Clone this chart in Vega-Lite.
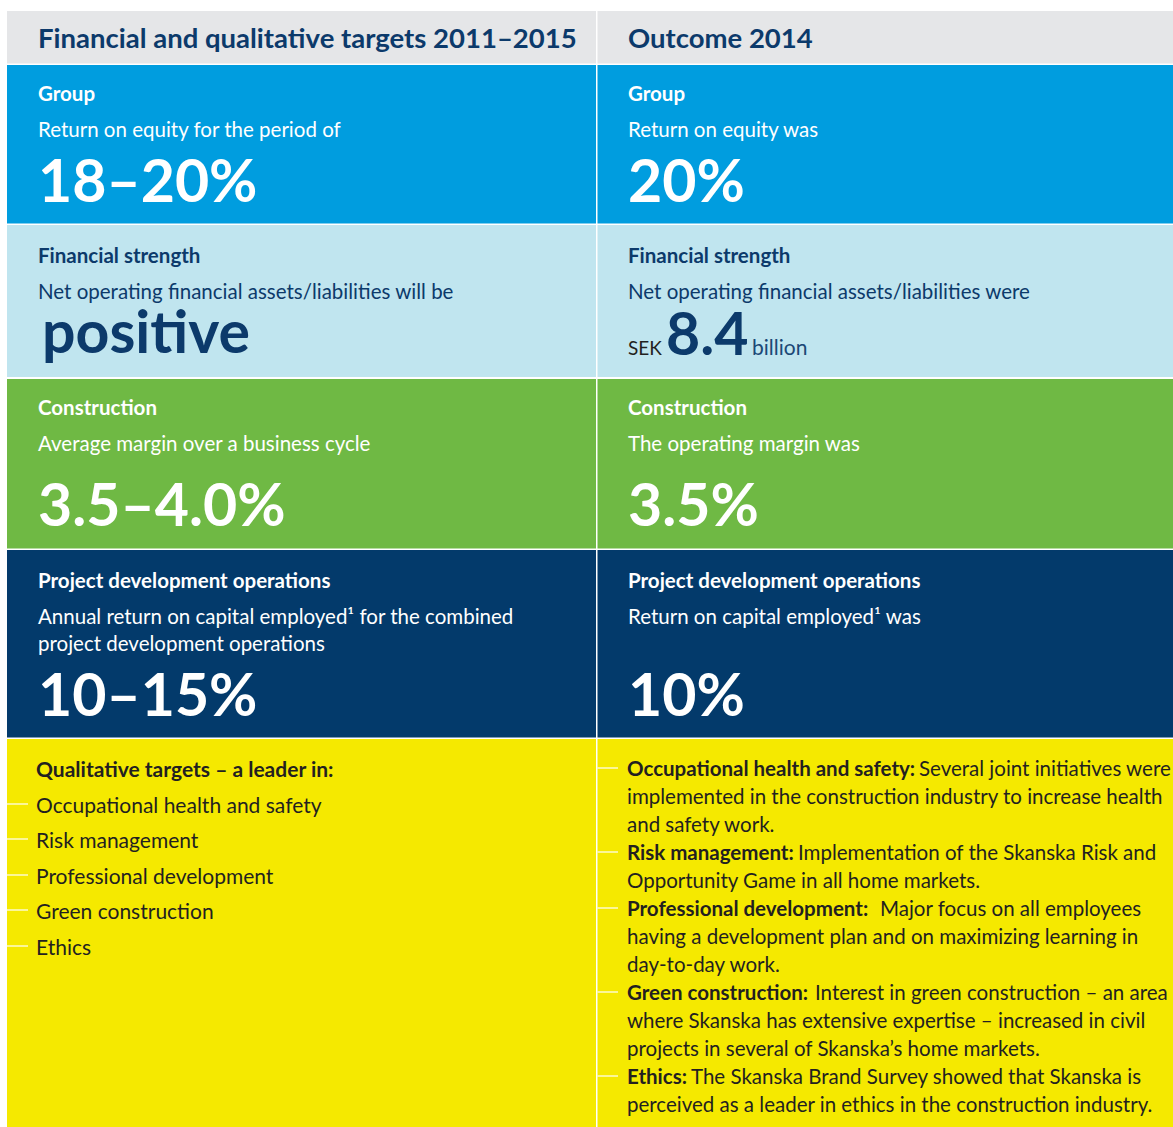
{
  "$schema": "https://vega.github.io/schema/vega-lite/v6.json",
  "width": 1173,
  "height": 1127,
  "autosize": {"type": "fit", "contains": "padding"},
  "padding": 0,
  "background": "#ffffff",
  "config": {"view": {"stroke": null}, "font": "Lato"},
  "datasets": {
    "cells": [
      {"section": "header", "col": "targets", "x0": 7, "x1": 596, "y0": 11, "y1": 63.5},
      {"section": "header", "col": "outcome", "x0": 597.5, "x1": 1173, "y0": 11, "y1": 63.5},
      {"section": "group", "col": "targets", "x0": 7, "x1": 596, "y0": 65, "y1": 223.5},
      {"section": "group", "col": "outcome", "x0": 597.5, "x1": 1173, "y0": 65, "y1": 223.5},
      {"section": "fin", "col": "targets", "x0": 7, "x1": 596, "y0": 225, "y1": 377},
      {"section": "fin", "col": "outcome", "x0": 597.5, "x1": 1173, "y0": 225, "y1": 377},
      {"section": "constr", "col": "targets", "x0": 7, "x1": 596, "y0": 379, "y1": 548.5},
      {"section": "constr", "col": "outcome", "x0": 597.5, "x1": 1173, "y0": 379, "y1": 548.5},
      {"section": "proj", "col": "targets", "x0": 7, "x1": 596, "y0": 550, "y1": 737.5},
      {"section": "proj", "col": "outcome", "x0": 597.5, "x1": 1173, "y0": 550, "y1": 737.5},
      {"section": "qual", "col": "targets", "x0": 7, "x1": 596, "y0": 739, "y1": 1127},
      {"section": "qual", "col": "outcome", "x0": 597.5, "x1": 1173, "y0": 739, "y1": 1127}
    ],
    "texts": [
      {"role": "header", "section": "header", "x": 38, "y": 48, "text": "Financial and qualitative targets 2011–2015"},
      {"role": "header", "section": "header", "x": 628, "y": 48, "text": "Outcome 2014"},
      {"role": "title", "section": "group", "x": 38, "y": 101, "text": "Group"},
      {"role": "title", "section": "group", "x": 628, "y": 101, "text": "Group"},
      {"role": "desc", "section": "group", "x": 38, "y": 137, "text": "Return on equity for the period of"},
      {"role": "desc", "section": "group", "x": 628, "y": 137, "text": "Return on equity was"},
      {"role": "big", "section": "group", "x": 38, "y": 202, "text": "18–20%"},
      {"role": "big", "section": "group", "x": 628, "y": 202, "text": "20%"},
      {"role": "title", "section": "fin", "x": 38, "y": 263, "text": "Financial strength"},
      {"role": "title", "section": "fin", "x": 628, "y": 263, "text": "Financial strength"},
      {"role": "desc", "section": "fin", "x": 38, "y": 299, "text": "Net operating financial assets/liabilities will be"},
      {"role": "desc", "section": "fin", "x": 628, "y": 299, "text": "Net operating financial assets/liabilities were"},
      {"role": "big", "section": "fin", "x": 42, "y": 353, "text": "positive"},
      {"role": "big", "section": "fin", "x": 666, "y": 355, "text": "8.4"},
      {"role": "sek", "section": "fin", "x": 628, "y": 355, "text": "SEK"},
      {"role": "unit", "section": "fin", "x": 752, "y": 355, "text": "billion"},
      {"role": "title", "section": "constr", "x": 38, "y": 415, "text": "Construction"},
      {"role": "title", "section": "constr", "x": 628, "y": 415, "text": "Construction"},
      {"role": "desc", "section": "constr", "x": 38, "y": 451, "text": "Average margin over a business cycle"},
      {"role": "desc", "section": "constr", "x": 628, "y": 451, "text": "The operating margin was"},
      {"role": "big", "section": "constr", "x": 38, "y": 526, "text": "3.5–4.0%"},
      {"role": "big", "section": "constr", "x": 628, "y": 526, "text": "3.5%"},
      {"role": "title", "section": "proj", "x": 38, "y": 588, "text": "Project development operations"},
      {"role": "title", "section": "proj", "x": 628, "y": 588, "text": "Project development operations"},
      {"role": "desc", "section": "proj", "x": 38, "y": 624, "text": "Annual return on capital employed¹ for the combined"},
      {"role": "desc", "section": "proj", "x": 38, "y": 651, "text": "project development operations"},
      {"role": "desc", "section": "proj", "x": 628, "y": 624, "text": "Return on capital employed¹ was"},
      {"role": "big", "section": "proj", "x": 38, "y": 716, "text": "10–15%"},
      {"role": "big", "section": "proj", "x": 628, "y": 716, "text": "10%"},
      {"role": "qhead", "section": "qual", "x": 36, "y": 777, "text": "Qualitative targets – a leader in:"},
      {"role": "qitem", "section": "qual", "x": 36, "y": 813, "text": "Occupational health and safety"},
      {"role": "qitem", "section": "qual", "x": 36, "y": 848, "text": "Risk management"},
      {"role": "qitem", "section": "qual", "x": 36, "y": 884, "text": "Professional development"},
      {"role": "qitem", "section": "qual", "x": 36, "y": 919, "text": "Green construction"},
      {"role": "qitem", "section": "qual", "x": 36, "y": 955, "text": "Ethics"},
      {"role": "qbold", "section": "qual", "x": 627, "y": 776, "text": "Occupational health and safety:"},
      {"role": "qtext", "section": "qual", "x": 919, "y": 776, "text": "Several joint initiatives were"},
      {"role": "qtext", "section": "qual", "x": 627, "y": 804, "text": "implemented in the construction industry to increase health"},
      {"role": "qtext", "section": "qual", "x": 627, "y": 832, "text": "and safety work."},
      {"role": "qbold", "section": "qual", "x": 627, "y": 860, "text": "Risk management:"},
      {"role": "qtext", "section": "qual", "x": 798, "y": 860, "text": "Implementation of the Skanska Risk and"},
      {"role": "qtext", "section": "qual", "x": 627, "y": 888, "text": "Opportunity Game in all home markets."},
      {"role": "qbold", "section": "qual", "x": 627, "y": 916, "text": "Professional development:"},
      {"role": "qtext", "section": "qual", "x": 880, "y": 916, "text": "Major focus on all employees"},
      {"role": "qtext", "section": "qual", "x": 627, "y": 944, "text": "having a development plan and on maximizing learning in"},
      {"role": "qtext", "section": "qual", "x": 627, "y": 972, "text": "day-to-day work."},
      {"role": "qbold", "section": "qual", "x": 627, "y": 1000, "text": "Green construction:"},
      {"role": "qtext", "section": "qual", "x": 815, "y": 1000, "text": "Interest in green construction – an area"},
      {"role": "qtext", "section": "qual", "x": 627, "y": 1028, "text": "where Skanska has extensive expertise – increased in civil"},
      {"role": "qtext", "section": "qual", "x": 627, "y": 1056, "text": "projects in several of Skanska’s home markets."},
      {"role": "qbold", "section": "qual", "x": 627, "y": 1084, "text": "Ethics:"},
      {"role": "qtext", "section": "qual", "x": 691, "y": 1084, "text": "The Skanska Brand Survey showed that Skanska is"},
      {"role": "qtext", "section": "qual", "x": 627, "y": 1112, "text": "perceived as a leader in ethics in the construction industry."}
    ],
    "dashes": [
      {"col": "targets", "item": "Occupational health and safety", "x0": 7, "x1": 28, "y": 804},
      {"col": "targets", "item": "Risk management", "x0": 7, "x1": 28, "y": 839},
      {"col": "targets", "item": "Professional development", "x0": 7, "x1": 28, "y": 875},
      {"col": "targets", "item": "Green construction", "x0": 7, "x1": 28, "y": 910},
      {"col": "targets", "item": "Ethics", "x0": 7, "x1": 28, "y": 946},
      {"col": "outcome", "item": "Occupational health and safety", "x0": 597.5, "x1": 618, "y": 768},
      {"col": "outcome", "item": "Risk management", "x0": 597.5, "x1": 618, "y": 852},
      {"col": "outcome", "item": "Professional development", "x0": 597.5, "x1": 618, "y": 908},
      {"col": "outcome", "item": "Green construction", "x0": 597.5, "x1": 618, "y": 992},
      {"col": "outcome", "item": "Ethics", "x0": 597.5, "x1": 618, "y": 1076}
    ]
  },
  "encoding": {
    "x": {"field": "x", "type": "quantitative", "axis": null, "scale": {"domain": [0, 1173], "nice": false, "zero": false}},
    "y": {"field": "y", "type": "quantitative", "axis": null, "scale": {"domain": [0, 1127], "nice": false, "zero": false, "reverse": true}}
  },
  "layer": [
    {
      "data": {"name": "cells"},
      "mark": {"type": "rect", "strokeWidth": 0},
      "encoding": {
        "x": {"field": "x0", "type": "quantitative", "axis": null, "scale": {"domain": [0, 1173], "nice": false, "zero": false}},
        "x2": {"field": "x1"},
        "y": {"field": "y0", "type": "quantitative", "axis": null, "scale": {"domain": [0, 1127], "nice": false, "zero": false, "reverse": true}},
        "y2": {"field": "y1"},
        "fill": {"field": "section", "type": "nominal", "legend": null,
          "scale": {"domain": ["header", "group", "fin", "constr", "proj", "qual"],
                    "range": ["#e5e6e8", "#009ddf", "#c0e5ef", "#6fb944", "#033a6b", "#f5e900"]}}
      }
    },
    {
      "data": {"name": "dashes"},
      "mark": {"type": "rule", "color": "#ffffff", "strokeWidth": 1.2},
      "encoding": {
        "x": {"field": "x0", "type": "quantitative"},
        "x2": {"field": "x1"},
        "y": {"field": "y", "type": "quantitative"}
      }
    },
    {
      "data": {"name": "texts"},
      "transform": [{"filter": "datum.role == 'header'"}],
      "mark": {"type": "text", "align": "left", "baseline": "alphabetic", "fontSize": 27.5, "fontWeight": "bold", "color": "#0c3a6b"},
      "encoding": {"text": {"field": "text"}}
    },
    {
      "data": {"name": "texts"},
      "transform": [{"filter": "datum.role == 'title'"}],
      "mark": {"type": "text", "align": "left", "baseline": "alphabetic", "fontSize": 20.5, "fontWeight": "bold"},
      "encoding": {
        "text": {"field": "text"},
        "color": {"field": "section", "type": "nominal", "legend": null,
          "scale": {"domain": ["group", "fin", "constr", "proj"], "range": ["#ffffff", "#0c3a6b", "#ffffff", "#ffffff"]}}
      }
    },
    {
      "data": {"name": "texts"},
      "transform": [{"filter": "datum.role == 'desc'"}],
      "mark": {"type": "text", "align": "left", "baseline": "alphabetic", "fontSize": 20.5, "fontWeight": "normal"},
      "encoding": {
        "text": {"field": "text"},
        "color": {"field": "section", "type": "nominal", "legend": null,
          "scale": {"domain": ["group", "fin", "constr", "proj"], "range": ["#ffffff", "#1b4876", "#ffffff", "#ffffff"]}}
      }
    },
    {
      "data": {"name": "texts"},
      "transform": [{"filter": "datum.role == 'big'"}],
      "mark": {"type": "text", "align": "left", "baseline": "alphabetic", "fontSize": 59, "fontWeight": "bold"},
      "encoding": {
        "text": {"field": "text"},
        "color": {"field": "section", "type": "nominal", "legend": null,
          "scale": {"domain": ["group", "fin", "constr", "proj"], "range": ["#ffffff", "#033a6b", "#ffffff", "#ffffff"]}}
      }
    },
    {
      "data": {"name": "texts"},
      "transform": [{"filter": "datum.role == 'sek'"}],
      "mark": {"type": "text", "align": "left", "baseline": "alphabetic", "fontSize": 19, "color": "#231f20"},
      "encoding": {"text": {"field": "text"}}
    },
    {
      "data": {"name": "texts"},
      "transform": [{"filter": "datum.role == 'unit'"}],
      "mark": {"type": "text", "align": "left", "baseline": "alphabetic", "fontSize": 21, "color": "#1b4876"},
      "encoding": {"text": {"field": "text"}}
    },
    {
      "data": {"name": "texts"},
      "transform": [{"filter": "datum.role == 'qhead'"}],
      "mark": {"type": "text", "align": "left", "baseline": "alphabetic", "fontSize": 21, "fontWeight": "bold", "color": "#231f20"},
      "encoding": {"text": {"field": "text"}}
    },
    {
      "data": {"name": "texts"},
      "transform": [{"filter": "datum.role == 'qitem'"}],
      "mark": {"type": "text", "align": "left", "baseline": "alphabetic", "fontSize": 21, "color": "#231f20"},
      "encoding": {"text": {"field": "text"}}
    },
    {
      "data": {"name": "texts"},
      "transform": [{"filter": "datum.role == 'qbold'"}],
      "mark": {"type": "text", "align": "left", "baseline": "alphabetic", "fontSize": 20.5, "fontWeight": "bold", "color": "#231f20"},
      "encoding": {"text": {"field": "text"}}
    },
    {
      "data": {"name": "texts"},
      "transform": [{"filter": "datum.role == 'qtext'"}],
      "mark": {"type": "text", "align": "left", "baseline": "alphabetic", "fontSize": 20.5, "color": "#231f20"},
      "encoding": {"text": {"field": "text"}}
    }
  ]
}
